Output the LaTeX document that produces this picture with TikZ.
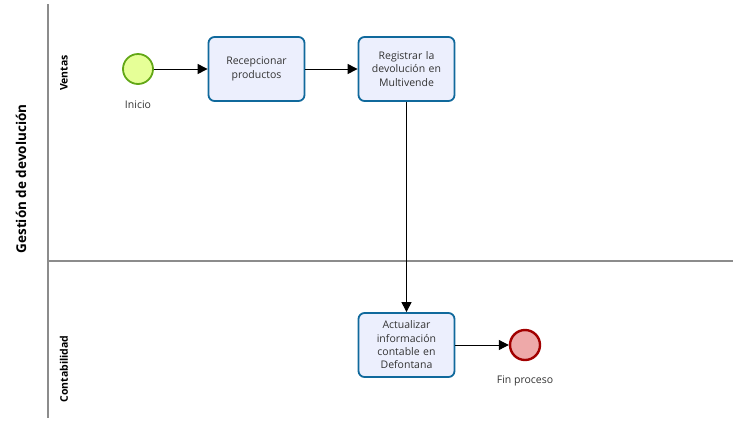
\documentclass[tikz,border=0pt]{standalone}
\usepackage{fontspec}
\setmainfont{Open Sans}
\usetikzlibrary{arrows.meta}
\definecolor{taskfill}{HTML}{ECEFFD}
\definecolor{taskdraw}{HTML}{10699C}
\definecolor{startfill}{HTML}{E6FF97}
\definecolor{startdraw}{HTML}{62A716}
\definecolor{endfill}{HTML}{EEA9A9}
\definecolor{enddraw}{HTML}{A20000}
\definecolor{poolline}{HTML}{8C8C8C}
\tikzset{
  x=1pt, y=-1pt,
  task/.style={draw=taskdraw, fill=taskfill, line width=1.8pt, rounded corners=6pt,
    minimum width=96pt, minimum height=64pt, inner sep=2pt, align=center,
    text width=92pt, font=\fontsize{10.5}{13.3}\selectfont, text=black!80},
  startev/.style={circle, draw=startdraw, fill=startfill, line width=1.8pt, minimum size=30pt, inner sep=0pt},
  endev/.style={circle, draw=enddraw, fill=endfill, line width=2.4pt, minimum size=30pt, inner sep=0pt},
  evlabel/.style={font=\fontsize{10.5}{12}\selectfont, text=black!80},
  flow/.style={-{Triangle[length=10pt,width=10pt]}, line width=1pt, black},
  lanelabel/.style={rotate=90, font=\bfseries\fontsize{10.5}{12}\selectfont},
  poollabel/.style={rotate=90, font=\bfseries\fontsize{13.5}{15}\selectfont},
  poolline/.style={draw=poolline, line width=1.3pt}
}
\begin{document}
\begin{tikzpicture}
\useasboundingbox (0,0) rectangle (733,421);
% pool lines
\coordinate (pt) at (48,4);
\coordinate (pb) at (48,418);
\coordinate (dl) at (48,261);
\coordinate (dr) at (733,261);
\draw[poolline] (pt) -- (pb);
\draw[poolline] (dl) -- (dr);
% labels
\node[poollabel] (pool) at (21,179) {Gestión de devolución};
\node[lanelabel] (ventas) at (64,73) {Ventas};
\node[lanelabel] (conta) at (64,369) {Contabilidad};
% events and tasks
\node[startev] (start) at (138,69) {};
\node[evlabel] (startlbl) at (138,105) {Inicio};
\node[task] (t1) at (256.5,69) {Recepcionar\\productos};
\node[task] (t2) at (406.5,69) {Registrar la\\devolución en\\Multivende};
\node[task] (t3) at (406.5,345) {Actualizar\\información\\contable en\\Defontana};
\node[endev] (end) at (525,345) {};
\node[evlabel] (endlbl) at (525,381) {Fin proceso};
% flows
\draw[flow] (start) -- (t1);
\draw[flow] (t1) -- (t2);
\draw[flow] (t2) -- (t3);
\draw[flow] (t3) -- (end);
\end{tikzpicture}
\end{document}
